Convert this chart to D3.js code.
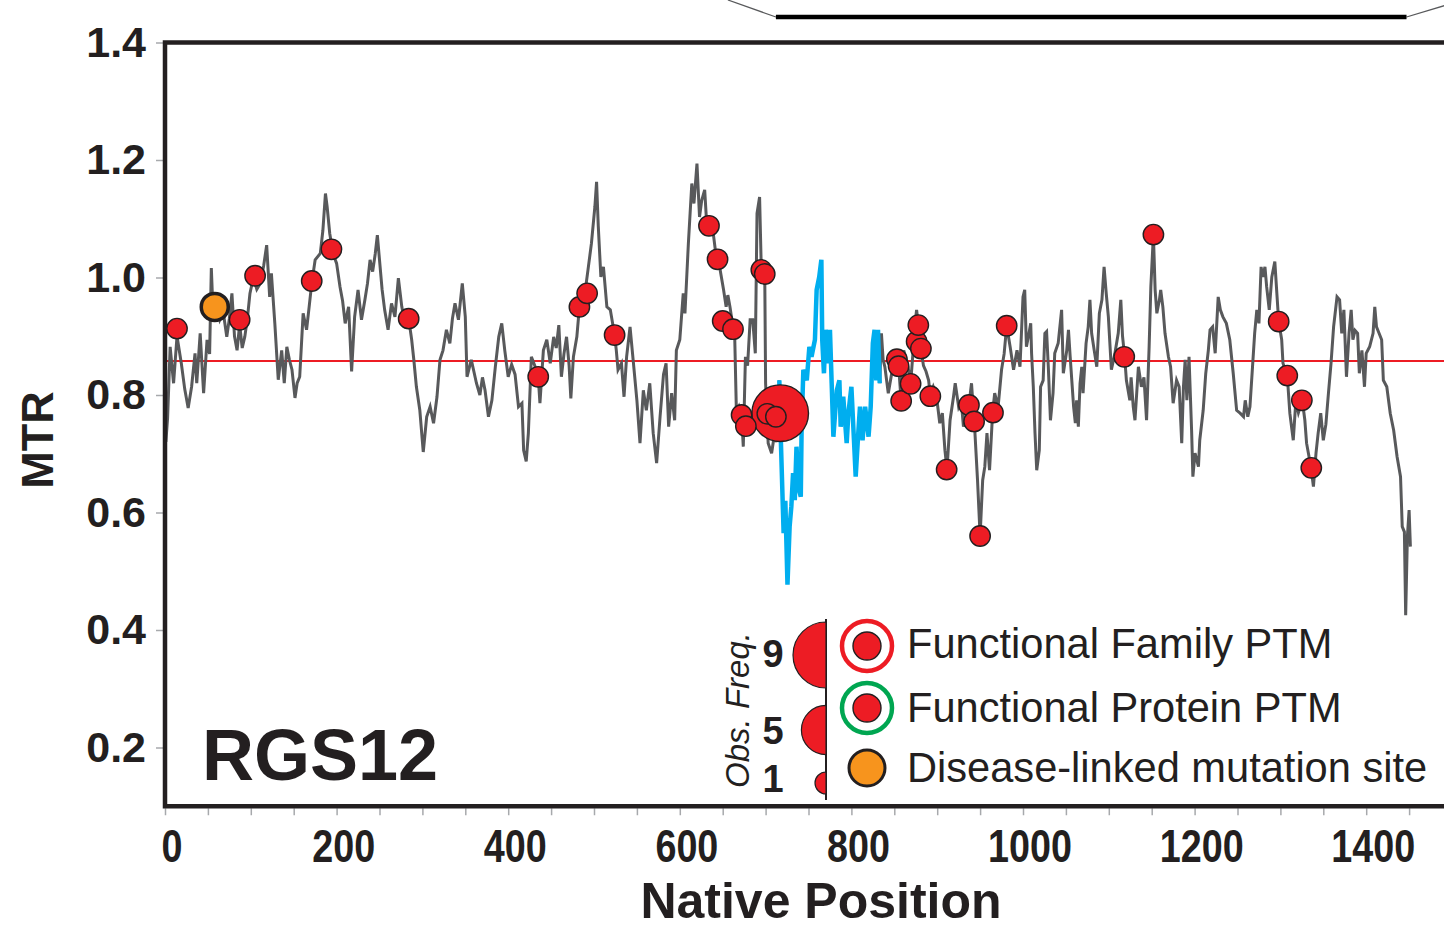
<!DOCTYPE html>
<html>
<head>
<meta charset="utf-8">
<script src="https://cdn.jsdelivr.net/npm/d3@7"></script>
<style>
    body { margin: 0; background: #ffffff; }
    svg { display: block; font-family: "Liberation Sans", Arial, Helvetica, sans-serif; }
</style>
</head>
<body>
<svg id="mtr-chart"></svg>
<script>
/*--------------------------------------------------------------------------------
----- MTR PROFILE CHART (RGS12, missense tolerance ratio along native position)
--------------------------------------------------------------------------------*/

// MTR trace: [native position, MTR]
const mtr_trace = [
    [1,0.72],[3,0.76],[6,0.882],[10,0.82],[14,0.9],[19,0.854],[23,0.81],[27,0.778],[31,0.814],[35,0.871],
    [37,0.82],[41,0.905],[45,0.803],[49,0.894],[52,0.87],[54,1.016],[56,0.94],[60,0.96],[64,0.928],[68,0.94],
    [72,0.899],[75,0.93],[78,0.973],[81,0.9],[84,0.876],[87,0.92],[90,0.88],[93,0.899],[96,0.93],[99,0.973],
    [103,1.0],[107,0.98],[111,0.99],[115,1.02],[118.5,1.055],[122,0.967],[124,1.007],[128,0.922],[132,0.826],[136,0.876],
    [139,0.82],[142,0.882],[145,0.86],[148,0.843],[151.5,0.795],[154,0.82],[157,0.831],[161,0.939],[165,0.911],[168,0.95],
    [171,0.99],[175,1.03],[181,1.041],[184,1.08],[187,1.143],[189,1.12],[192,1.075],[196,1.04],[200,1.024],[204,0.984],
    [207,0.96],[210,0.922],[214,0.95],[217.5,0.84],[221,0.933],[225,0.979],[229,0.928],[233,0.962],[236,0.99],[239,1.03],
    [242,1.01],[245,1.04],[247.5,1.072],[250,1.03],[253,0.98],[256,0.945],[260,0.911],[264,0.956],[268,0.933],[272,0.999],
    [276,0.95],[280,0.92],[284,0.93],[287.5,0.894],[290,0.86],[293,0.814],[297,0.774],[301,0.703],[305,0.763],[309,0.78],
    [313,0.752],[317,0.797],[320.5,0.86],[324,0.876],[328,0.911],[332,0.888],[335,0.93],[338,0.956],[342,0.928],[346.5,0.99],
    [350,0.933],[352,0.831],[357,0.86],[360,0.84],[363,0.82],[367,0.8],[370,0.83],[373,0.808],[377,0.763],[381,0.791],
    [385,0.848],[389,0.899],[392.5,0.922],[396,0.876],[400,0.831],[404,0.852],[408,0.835],[412,0.78],[416,0.786],[418,0.706],
    [421,0.687],[423.5,0.735],[427,0.865],[431,0.85],[435,0.831],[437,0.786],[441,0.876],[445,0.894],[449,0.854],[453,0.899],
    [456,0.88],[459,0.919],[462,0.831],[465,0.87],[468,0.899],[471,0.85],[473,0.794],[476,0.865],[480,0.899],[483,0.95],
    [487,0.96],[490,0.98],[493,1.013],[497,1.058],[501,1.12],[503,1.163],[505,1.087],[508,1.001],[511,1.018],[515,0.95],
    [519,0.945],[524,0.902],[526,0.876],[528,0.843],[532,0.854],[535,0.797],[538,0.865],[542,0.916],[546,0.854],[550,0.791],
    [553.6,0.718],[557.5,0.808],[561,0.774],[565,0.82],[569,0.735],[573,0.684],[577,0.763],[581,0.835],[584,0.854],[587,0.746],
    [590.5,0.803],[594,0.757],[596,0.876],[600,0.894],[604,0.973],[606,0.939],[610,1.058],[614,1.16],[616.5,1.126],[620,1.194],
    [623,1.103],[625.5,1.131],[629,1.149],[631,1.1],[634,1.088],[639,1.075],[642,1.04],[645,1.025],[647,1.013],[651,0.979],
    [654,0.95],[656,0.97],[658.5,0.95],[661,0.925],[664,0.899],[666,0.769],[669,0.78],[672,0.766],[674,0.712],[676.5,0.865],
    [679,0.85],[682,0.928],[685,0.928],[688,0.871],[690,1.109],[693,1.137],[695,1.013],[699,1.006],[700,0.82],[703,0.718],
    [707,0.701],[710,0.73],[713,0.72],
    [716,0.825],[718,0.712],[721,0.565],[723,0.62],[725.5,0.477],[728,0.576],[730,0.61],[732,0.667],[734,0.621],[736,0.712],
    [739,0.638],[741,0.627],[742,0.746],[744,0.843],[748,0.825],[751,0.882],[753.5,0.865],[757.5,0.894],[759.5,0.979],[762.5,1.001],
    [765,1.03],[766,0.894],[768,0.837],[770,0.911],[773,0.854],[775,0.911],[777,0.82],[779,0.729],[781,0.769],[783,0.808],
    [786,0.825],[787.5,0.746],[790.5,0.797],[794.5,0.718],[796.5,0.769],[800,0.814],[803,0.723],[805,0.661],[808,0.735],[810,0.78],
    [813,0.723],[816,0.78],[820,0.729],[822.5,0.78],[825,0.888],[827,0.911],[829,0.825],[831,0.911],[833,0.82],
    [835,0.905],[837,0.86],[839,0.848],[843,0.803],[847,0.837],[850,0.87],[853,0.861],[855,0.849],[858,0.79],[861,0.876],
    [864,0.86],[867,0.84],[869,0.819],[872,0.876],[874,0.92],[876,0.945],[878,0.919],[881,0.879],[884,0.85],[887,0.84],
    [890,0.825],[892,0.798],[895.5,0.814],[899,0.8],[903,0.752],[906,0.769],[909,0.706],[911.4,0.673],[915,0.757],[919,0.797],
    [921,0.82],[925,0.78],[928,0.79],[930.6,0.746],[934,0.77],[937,0.783],[940,0.82],[943,0.755],[944,0.735],[947,0.655],
    [950,0.56],[953,0.655],[955.5,0.678],[958,0.735],[961,0.672],[964.6,0.77],[967,0.803],[971,0.78],[975,0.843],[978,0.87],
    [981,0.918],[985,0.882],[989,0.843],[993,0.876],[996.5,0.848],[1000,0.967],[1002,0.979],[1004,0.882],[1007,0.905],[1009,0.922],
    [1010,0.871],[1012,0.814],[1014,0.735],[1016,0.672],[1019,0.706],[1020.5,0.814],[1023.5,0.825],[1025.5,0.905],[1027.5,0.908],[1029.5,0.848],
    [1032,0.757],[1035,0.803],[1037,0.871],[1041,0.888],[1045,0.945],[1047,0.837],[1051,0.876],[1053,0.911],[1055,0.865],[1059,0.78],
    [1061,0.752],[1062.5,0.791],[1064.5,0.746],[1066.5,0.82],[1068.5,0.848],[1070,0.803],[1073.5,0.888],[1076,0.916],[1078,0.962],[1080,0.905],
    [1083,0.876],[1086,0.848],[1089,0.939],[1092,0.962],[1094.5,1.018],[1097,0.973],[1099.5,0.933],[1103,0.843],[1107,0.87],[1111,0.905],
    [1114,0.962],[1116,0.9],[1118.5,0.865],[1120.5,0.825],[1124.5,0.791],[1126,0.83],[1128.5,0.78],[1130.5,0.757],[1134.5,0.848],[1138,0.814],
    [1141,0.83],[1144,0.757],[1147,0.882],[1149,0.984],[1152,1.073],[1154,0.979],[1156,0.939],[1159,0.962],[1160.5,0.979],[1163,0.95],
    [1165.5,0.905],[1169.5,0.865],[1172,0.848],[1175,0.786],[1179,0.825],[1182,0.814],[1185,0.718],[1187,0.814],[1189,0.86],[1191,0.791],
    [1193.5,0.865],[1196.5,0.74],[1198,0.661],[1200.5,0.701],[1204.5,0.678],[1206,0.723],[1210,0.774],[1213,0.837],[1216,0.876],[1218,0.911],
    [1221,0.916],[1224,0.871],[1227.5,0.967],[1230,0.945],[1233,0.933],[1237,0.922],[1241,0.894],[1245,0.837],[1249,0.774],[1253,0.769],
    [1257,0.763],[1259,0.791],[1262,0.763],[1264.5,0.78],[1267.5,0.848],[1270,0.905],[1272.5,0.945],[1275,0.922],[1277.5,1.018],[1279.5,1.001],
    [1282,1.018],[1284,0.984],[1287,0.945],[1290,1.001],[1293.5,1.027],[1296,0.97],[1298,0.925],[1301.5,0.894],[1303,0.854],[1308,0.833],
    [1311,0.769],[1313,0.746],[1315,0.723],[1318,0.79],[1321,0.77],[1325.5,0.791],[1328.5,0.757],[1330.5,0.718],[1335.7,0.676],[1338.5,0.644],
    [1341.5,0.701],[1344,0.735],[1347,0.769],[1350,0.723],[1353,0.75],[1356,0.803],[1359,0.854],[1362,0.916],[1366,0.967],[1369,0.962],
    [1371.5,0.905],[1374,0.945],[1377,0.831],[1380,0.905],[1382.5,0.945],[1384.5,0.894],[1387,0.91],[1390,0.905],[1392,0.837],[1395,0.876],
    [1398,0.814],[1400,0.871],[1404,0.882],[1408,0.905],[1410,0.95],[1412,0.916],[1415,0.905],[1418,0.894],[1420,0.825],[1424,0.814],
    [1428,0.769],[1432,0.74],[1436,0.695],[1440,0.661],[1442,0.576],[1444.5,0.567],[1446,0.425],[1448,0.559],[1450,0.604],[1451.5,0.542]
];

// Stretch of the trace drawn in blue (native positions)
const blue_region = [716, 833];

// Family-wide MTR reference level (red horizontal line)
const family_mtr = 0.858;

// PTM sites: native position, MTR and observed frequency
const ptm_positions = [14, 87, 105, 171, 194, 284, 435, 483, 492, 524, 634, 644, 650, 662, 672, 677, 695, 699, 702, 712, 717,
    853, 855, 858, 869, 876, 878, 881, 892, 911, 937, 943, 950, 965, 981, 1118, 1152, 1298, 1308, 1325, 1336];
const ptm_mtr = [0.913, 0.928, 1.003, 0.994, 1.048, 0.93, 0.831, 0.95, 0.973, 0.902, 1.088, 1.031, 0.926, 0.912, 0.766, 0.747, 1.013, 1.006, 0.768, 0.763, 0.769,
    0.861, 0.849, 0.79, 0.819, 0.891, 0.919, 0.879, 0.798, 0.673, 0.783, 0.755, 0.56, 0.77, 0.918, 0.865, 1.073, 0.925, 0.833, 0.791, 0.676];
const ptm_freq = [1, 1, 1, 1, 1, 1, 1, 1, 1, 1, 1, 1, 1, 1, 1, 1, 1, 1, 1, 1, 7,
    1, 1, 1, 1, 1, 1, 1, 1, 1, 1, 1, 1, 1, 1, 1, 1, 1, 1, 1, 1];

// Disease-linked mutation sites
const disease_positions = [58];
const disease_mtr = [0.95];

// Axis tick values and labels
const x_tick_values = d3.range(0, 1501, 50);
const x_tick_labels = [0, 200, 400, 600, 800, 1000, 1200, 1400];
const y_tick_values = [0.2, 0.4, 0.6, 0.8, 1.0, 1.2, 1.4];

// Legend content
const legend_freqs = [9, 5, 1];
const legend_labels = ["Functional Family PTM", "Functional Protein PTM", "Disease-linked mutation site"];

// Zoom bracket shown above the panel (native positions)
const bracket_span = [712, 1447];

// Colours
const ink = "#231f20";
const trace_grey = "#58595b";
const tick_grey = "#a7a9ac";
const ptm_red = "#ed1c24";
const trace_blue = "#00aeef";
const ring_green = "#00a651";
const disease_orange = "#f7941d";

// Configure the dimensions of the chart
const chart_width = 1444, chart_height = 928;
const margins = { top: 42.5, left: 165 };
const plot_width = 1287, plot_height = 763.75;

// Create the scales for the X-axis and Y-axis
const x_scale = d3.scaleLinear()
    .domain([0, 1500])
    .range([margins.left, margins.left + plot_width]);
const y_scale = d3.scaleLinear()
    .domain([0.1, 1.4])
    .range([margins.top + plot_height, margins.top]);
const r_scale = d3.scaleSqrt()
    .domain([0, 9])
    .range([0, 33]);

// Create the chart container
const svg = d3.select("#mtr-chart")
    .attr("width", chart_width)
    .attr("height", chart_height);

// Zoom bracket at the top
const bracket_y = 17;
svg.append("path")
    .attr("d", `M${x_scale(bracket_span[0]) - 48},0 L${x_scale(bracket_span[0])},${bracket_y}`)
    .attr("stroke", trace_grey).attr("stroke-width", 1.3).attr("fill", "none");
svg.append("path")
    .attr("d", `M${x_scale(bracket_span[1])},${bracket_y} L${x_scale(bracket_span[1]) + 40},${bracket_y - 12}`)
    .attr("stroke", trace_grey).attr("stroke-width", 1.3).attr("fill", "none");
svg.append("line")
    .attr("x1", x_scale(bracket_span[0])).attr("x2", x_scale(bracket_span[1]))
    .attr("y1", bracket_y).attr("y2", bracket_y)
    .attr("stroke", "#000").attr("stroke-width", 4.5);

// X-axis ticks (every 50) with labels every 200
const x_axis = d3.axisBottom(x_scale)
    .tickValues(x_tick_values)
    .tickSize(7)
    .tickFormat(d => x_tick_labels.includes(d) ? d : "");
const x_axis_g = svg.append("g")
    .attr("transform", `translate(0,${y_scale(0.1) + 2})`)
    .call(x_axis);
x_axis_g.select(".domain").remove();
x_axis_g.selectAll(".tick line").attr("stroke", tick_grey).attr("stroke-width", 1.5);
x_axis_g.selectAll(".tick text")
    .attr("y", 54)
    .attr("dy", null)
    .attr("x", 8)
    .attr("transform", "scale(0.82,1)")
    .attr("fill", ink)
    .style("font-size", "46px")
    .style("font-weight", "bold")
    .style("font-family", "'Liberation Sans', Arial, sans-serif");

// Y-axis ticks and labels
const y_axis = d3.axisLeft(y_scale)
    .tickValues(y_tick_values)
    .tickSize(7)
    .tickPadding(10)
    .tickFormat(d3.format(".1f"));
const y_axis_g = svg.append("g")
    .attr("transform", `translate(${margins.left - 2},0)`)
    .call(y_axis);
y_axis_g.select(".domain").remove();
y_axis_g.selectAll(".tick line").attr("stroke", tick_grey).attr("stroke-width", 1.5);
y_axis_g.selectAll(".tick text")
    .attr("fill", ink)
    .style("font-size", "43px")
    .style("font-weight", "bold");

// Family MTR reference line
svg.append("line")
    .attr("x1", x_scale(0)).attr("x2", chart_width)
    .attr("y1", y_scale(family_mtr)).attr("y2", y_scale(family_mtr))
    .attr("stroke", ptm_red).attr("stroke-width", 2);

// Grey MTR trace (broken where the blue stretch is drawn)
const grey_line = d3.line()
    .defined(d => d[0] <= blue_region[0] || d[0] >= blue_region[1])
    .x(d => x_scale(d[0]))
    .y(d => y_scale(d[1]));
svg.append("path")
    .datum(mtr_trace)
    .attr("d", grey_line)
    .attr("fill", "none")
    .attr("stroke", trace_grey)
    .attr("stroke-width", 3);

// Blue stretch of the MTR trace
const blue_line = d3.line()
    .x(d => x_scale(d[0]))
    .y(d => y_scale(d[1]));
svg.append("path")
    .datum(mtr_trace.filter(d => d[0] >= blue_region[0] && d[0] <= blue_region[1]))
    .attr("d", blue_line)
    .attr("fill", "none")
    .attr("stroke", trace_blue)
    .attr("stroke-width", 4.5);

// Frame of the plot area (top, left, bottom)
svg.append("path")
    .attr("d", `M${chart_width + 10},${y_scale(1.4)} H${x_scale(0)} V${y_scale(0.1)} H${chart_width + 10}`)
    .attr("fill", "none")
    .attr("stroke", ink)
    .attr("stroke-width", 4.5);

// PTM sites, biggest first so the small ones stay on top
const ptm_data = ptm_positions.map((p, i) => ({ x: p, y: ptm_mtr[i], freq: ptm_freq[i] }))
    .sort((a, b) => b.freq - a.freq);
svg.selectAll("circle.ptm")
    .data(ptm_data)
    .enter()
    .append("circle")
    .attr("class", "ptm")
    .attr("cx", d => x_scale(d.x))
    .attr("cy", d => y_scale(d.y))
    .attr("r", d => r_scale(d.freq) - 0.8)
    .attr("fill", ptm_red)
    .attr("stroke", ink)
    .attr("stroke-width", 1.4);

// Disease-linked mutation sites
svg.selectAll("circle.disease")
    .data(disease_positions.map((p, i) => ({ x: p, y: disease_mtr[i] })))
    .enter()
    .append("circle")
    .attr("class", "disease")
    .attr("cx", d => x_scale(d.x))
    .attr("cy", d => y_scale(d.y))
    .attr("r", 13.5)
    .attr("fill", disease_orange)
    .attr("stroke", ink)
    .attr("stroke-width", 3.5);

// Protein name
svg.append("text")
    .attr("x", 202).attr("y", 780)
    .attr("fill", ink)
    .style("font-size", "72px")
    .style("font-weight", "bold")
    .text("RGS12");

// Axis titles
svg.append("text")
    .attr("x", 821).attr("y", 918)
    .attr("text-anchor", "middle")
    .attr("fill", ink)
    .style("font-size", "50px")
    .style("font-weight", "bold")
    .text("Native Position");
svg.append("text")
    .attr("transform", "translate(53,440) rotate(-90)")
    .attr("text-anchor", "middle")
    .attr("fill", ink)
    .style("font-size", "45px")
    .style("font-weight", "bold")
    .text("MTR");

// Legend: observed frequency half circles
const freq_axis_x = 826;
const freq_centres = [655, 730, 783];
svg.append("line")
    .attr("x1", freq_axis_x).attr("x2", freq_axis_x)
    .attr("y1", 619).attr("y2", 800)
    .attr("stroke", ink).attr("stroke-width", 2);
const half_arc = d3.arc().innerRadius(0).startAngle(Math.PI).endAngle(2 * Math.PI);
legend_freqs.forEach((f, i) => {
    svg.append("path")
        .attr("transform", `translate(${freq_axis_x},${freq_centres[i]})`)
        .attr("d", half_arc({ outerRadius: r_scale(f) }))
        .attr("fill", ptm_red)
        .attr("stroke", ink)
        .attr("stroke-width", 1.2);
    svg.append("text")
        .attr("x", 773).attr("y", [667, 744, 792][i])
        .attr("text-anchor", "middle")
        .attr("fill", ink)
        .style("font-size", "38px")
        .style("font-weight", "bold")
        .text(f);
});
svg.append("text")
    .attr("transform", "translate(749,710) rotate(-90)")
    .attr("text-anchor", "middle")
    .attr("fill", ink)
    .style("font-size", "33px")
    .style("font-style", "italic")
    .text("Obs. Freq.");

// Legend: symbol keys
const key_x = 867;
const key_y = [646, 708, 768];
[ptm_red, ring_green].forEach((ring_colour, i) => {
    svg.append("circle")
        .attr("cx", key_x).attr("cy", key_y[i]).attr("r", 25)
        .attr("fill", "#fff").attr("stroke", ring_colour).attr("stroke-width", 4.5);
    svg.append("circle")
        .attr("cx", key_x).attr("cy", key_y[i]).attr("r", 14)
        .attr("fill", ptm_red).attr("stroke", ink).attr("stroke-width", 1.4);
});
svg.append("circle")
    .attr("cx", key_x).attr("cy", key_y[2]).attr("r", 18)
    .attr("fill", disease_orange).attr("stroke", ink).attr("stroke-width", 3);
legend_labels.forEach((label, i) => {
    svg.append("text")
        .attr("x", 907).attr("y", [658, 722, 782][i])
        .attr("fill", ink)
        .style("font-size", "41.6px")
        .text(label);
});
</script>
</body>
</html>
